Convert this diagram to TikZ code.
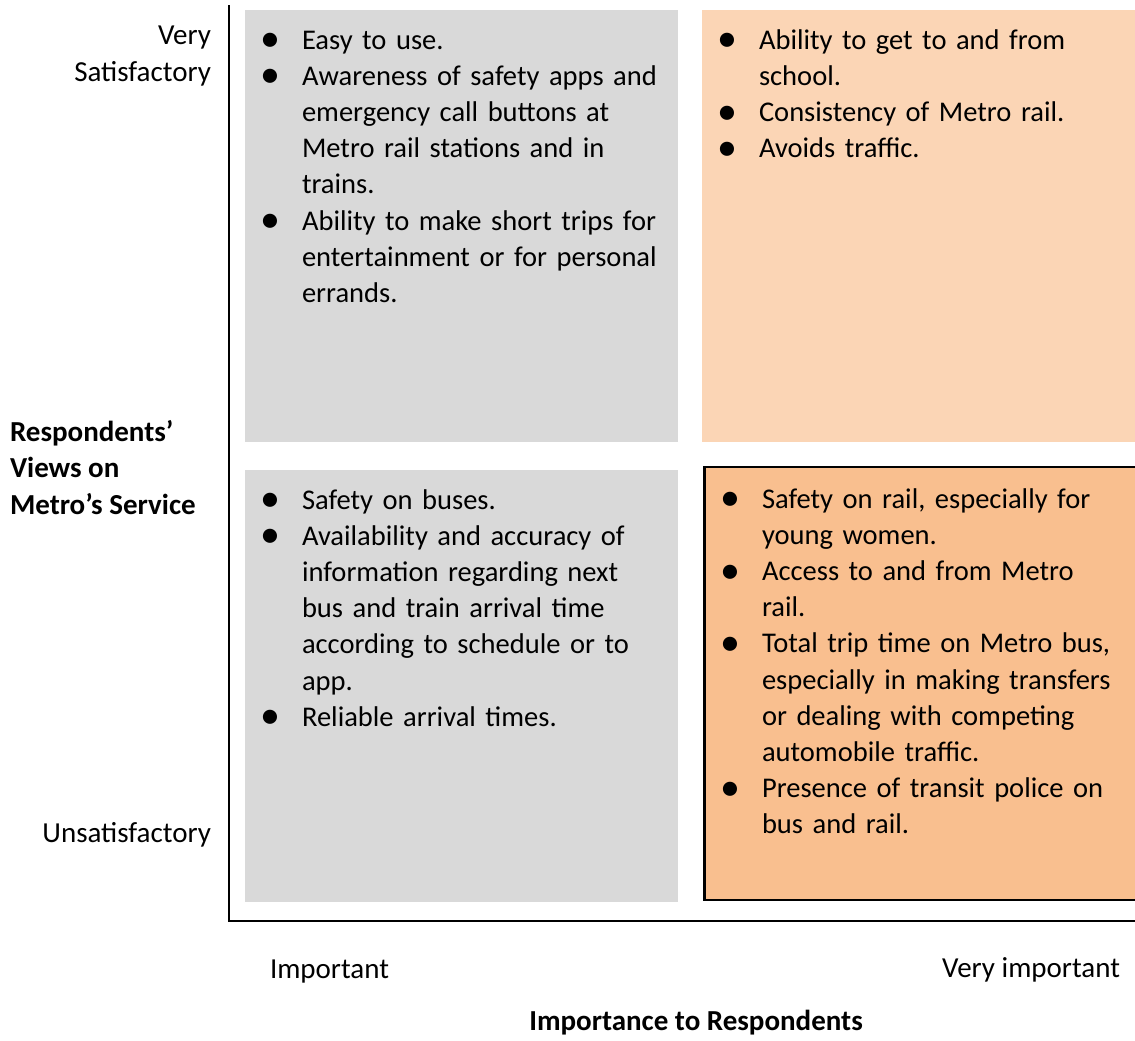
\documentclass[tikz,border=0pt]{standalone}
\usepackage{fontspec}
\setmainfont{Carlito}
\usetikzlibrary{positioning}
\definecolor{cellgray}{HTML}{D9D9D9}
\definecolor{cellpeach}{HTML}{FBD5B5}
\definecolor{cellorange}{HTML}{F9BF8F}
\newcommand{\bitem}{\hangindent=33pt\hangafter=1\noindent\makebox[33pt][l]{\makebox[18pt]{\raisebox{-2pt}{\scalebox{1.4}{\textbullet}}}}}

\begin{document}
\begin{tikzpicture}[x=0.75pt, y=-0.75pt,
		every node/.style={inner sep=0pt, outer sep=0pt, font=\fontsize{21.75}{27.15}\selectfont},
		panel/.style={anchor=north west},
		items/.style={anchor=base west, align=left, text width=330pt, font=\fontsize{21.4}{27.15}\selectfont},
		axis/.style={line width=2.2pt}]
		\useasboundingbox (0,0) rectangle (1135,1040);
		\clip (0,0) rectangle (1135,1040);
		% quadrants
		\node[panel, fill=cellgray, minimum width=324.75pt, minimum height=324.4pt] (tl) at (245,9.5) {};
		\node[panel, fill=cellpeach, minimum width=328.5pt, minimum height=324pt] (tr) at (702,10) {};
		\node[panel, fill=cellgray, minimum width=324.75pt, minimum height=324pt] (bl) at (245,470) {};
		\node[panel, fill=cellorange, draw=black, line width=2pt, minimum width=327pt, minimum height=324.75pt] (br) at (704.5,467) {};
		% axes
		\coordinate (ytop) at (229,5);
		\coordinate (xend) at (1140,921);
		\draw[axis] (ytop) |- (xend);
		% lists
		\node[items] (tltext) at (258,49) {\bitem Easy to use.\par\bitem Awareness of safety apps and\newline emergency call buttons at\newline Metro rail stations and in\newline trains.\par\bitem Ability to make short trips for\newline entertainment or for personal\newline errands.\par};
		\node[items] (trtext) at (715,49) {\bitem Ability to get to and from\newline school.\par\bitem Consistency of Metro rail.\par\bitem Avoids traffic.\par};
		\node[items] (bltext) at (258,509) {\bitem Safety on buses.\par\bitem Availability and accuracy of\newline information regarding next\newline bus and train arrival time\newline according to schedule or to\newline app.\par\bitem Reliable arrival times.\par};
		\node[items] (brtext) at (718,508) {\bitem Safety on rail, especially for\newline young women.\par\bitem Access to and from Metro\newline rail.\par\bitem Total trip time on Metro bus,\newline especially in making transfers\newline or dealing with competing\newline automobile traffic.\par\bitem Presence of transit police on\newline bus and rail.\par};
		% axis labels
		\node[anchor=base east, align=right] (vsat) at (211,81) {Very\\Satisfactory};
		\node[anchor=base east] (unsat) at (211,842) {Unsatisfactory};
		\node[anchor=base west, align=left, font=\fontsize{21.75}{27.15}\selectfont\bfseries] (ylab) at (10,514) {Respondents’\\Views on\\Metro’s Service};
		\node[anchor=base west] (imp) at (270,978) {Important};
		\node[anchor=base east] (vimp) at (1120,977) {Very important};
		\node[anchor=base, font=\fontsize{21.75}{27.15}\selectfont\bfseries] (xlab) at (696,1030) {Importance to Respondents};
	\end{tikzpicture}
\end{document}
